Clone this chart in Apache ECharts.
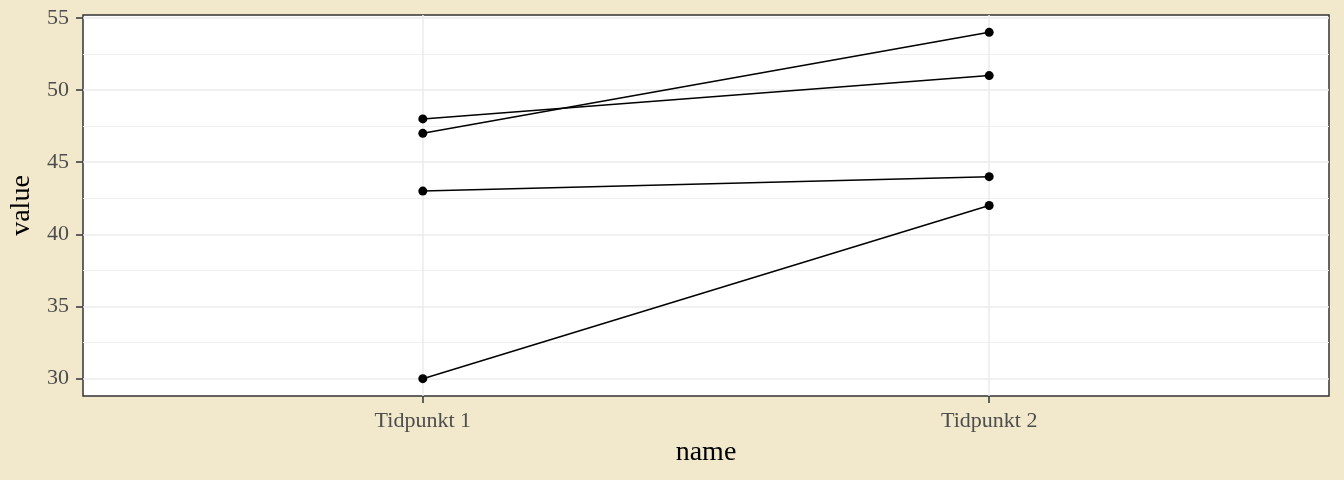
<!DOCTYPE html>
<html>
<head>
<meta charset="utf-8">
<script src="https://cdn.jsdelivr.net/npm/echarts@6/dist/echarts.min.js"></script>
<style>
html,body{margin:0;padding:0;background:#F2E8CB;}
#c{width:1344px;height:480px;}
</style>
</head>
<body>
<div id="c"></div>
<script>
const categories = ['Tidpunkt 1', 'Tidpunkt 2'];
const subjects = [
  [48, 51],
  [47, 54],
  [43, 44],
  [30, 42]
];
const yTicks = [30, 35, 40, 45, 50, 55];

const chart = echarts.init(document.getElementById('c'), null, {renderer: 'canvas'});
const FONT = '"Liberation Serif", "Times New Roman", serif';

const series = subjects.map(vals => ({
  type: 'line',
  data: vals.map((v, i) => [i + 1, v]),
  symbol: 'circle',
  symbolSize: 9,
  itemStyle: {color: '#000'},
  lineStyle: {color: '#000', width: 1.5},
  silent: true,
  animation: false
}));

chart.setOption({
  backgroundColor: '#F2E8CB',
  animation: false,
  grid: {left: 83, right: 15, top: 15, bottom: 84, containLabel: false, outerBoundsMode: 'none',
    show: true, backgroundColor: '#fff', borderColor: '#333', borderWidth: 1.5},
  xAxis: {
    type: 'value',
    min: 0.4, max: 2.6,
    name: 'name', nameLocation: 'middle', nameGap: 43,
    nameTextStyle: {fontFamily: FONT, fontSize: 28, color: '#000'},
    axisLine: {show: false},
    axisTick: {show: true, length: 7, customValues: [1, 2], lineStyle: {color: '#333', width: 1.5}},
    axisLabel: {customValues: [1, 2], margin: 14, fontFamily: FONT, fontSize: 22, color: '#4D4D4D',
      formatter: v => categories[Math.round(v) - 1] || ''},
    splitLine: {show: true, lineStyle: {color: '#EBEBEB', width: 1.5}}
  },
  yAxis: {
    type: 'value',
    min: 28.8, max: 55.2,
    name: 'value', nameLocation: 'middle', nameGap: 43,
    nameTextStyle: {fontFamily: FONT, fontSize: 28, color: '#000'},
    axisLine: {show: false},
    axisTick: {show: true, length: 7, customValues: yTicks, lineStyle: {color: '#333', width: 1.5}},
    axisLabel: {customValues: yTicks, margin: 14, fontFamily: FONT, fontSize: 22, color: '#4D4D4D'},
    splitLine: {show: true, lineStyle: {color: '#EBEBEB', width: 1.5}},
    minorTick: {show: false, splitNumber: 2},
    minorSplitLine: {show: true, lineStyle: {color: '#F0F0F0', width: 1}}
  },
  series: series
});
</script>
</body>
</html>
